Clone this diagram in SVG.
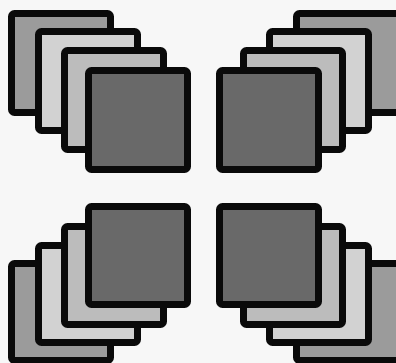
<svg xmlns="http://www.w3.org/2000/svg" width="396" height="363" viewBox="0 0 396 363">
<style>
rect.s{stroke:#0a0a0a;stroke-width:7;stroke-linejoin:round}
.c1{fill:#9b9b9b}.c2{fill:#d2d2d2}.c3{fill:#bcbcbc}.c4{fill:#696969}
</style>
<rect width="396" height="363" fill="#f7f7f7"/>
<g id="stack-top-left">
<rect class="s c1" x="11.5" y="13.5" width="99" height="99" rx="3"/>
<rect class="s c2" x="38.5" y="31.5" width="99" height="99" rx="3"/>
<rect class="s c3" x="64.5" y="50.5" width="99" height="99" rx="3"/>
<rect class="s c4" x="88.5" y="70.5" width="99" height="99" rx="3"/>
</g>
<g id="stack-top-right">
<rect class="s c1" x="296.5" y="13.5" width="110" height="99" rx="3"/>
<rect class="s c2" x="269.5" y="31.5" width="99" height="99" rx="3"/>
<rect class="s c3" x="243.5" y="50.5" width="99" height="99" rx="3"/>
<rect class="s c4" x="219.5" y="70.5" width="99" height="99" rx="3"/>
</g>
<g id="stack-bottom-left">
<rect class="s c1" x="11.5" y="263.5" width="99" height="97" rx="3"/>
<rect class="s c2" x="38.5" y="245.5" width="99" height="97" rx="3"/>
<rect class="s c3" x="64.5" y="226.5" width="99" height="98" rx="3"/>
<rect class="s c4" x="88.5" y="206.5" width="99" height="98" rx="3"/>
</g>
<g id="stack-bottom-right">
<rect class="s c1" x="296.5" y="263.5" width="110" height="97" rx="3"/>
<rect class="s c2" x="269.5" y="245.5" width="99" height="97" rx="3"/>
<rect class="s c3" x="243.5" y="226.5" width="99" height="98" rx="3"/>
<rect class="s c4" x="219.5" y="206.5" width="99" height="98" rx="3"/>
</g>
<g id="connectors"/>
</svg>
